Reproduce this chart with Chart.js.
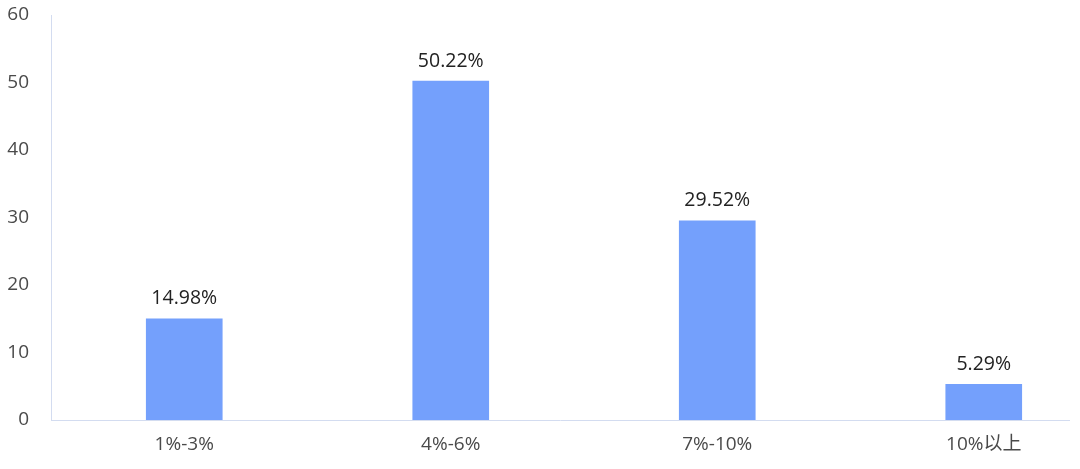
<!DOCTYPE html>
<html>
<head>
<meta charset="utf-8">
<script src="https://cdn.jsdelivr.net/npm/chart.js@4/dist/chart.umd.min.js"></script>
<style>
html,body{margin:0;padding:0;background:#fff;overflow:hidden;}
#wrap{position:relative;width:1080px;height:469px;overflow:hidden;}
</style>
</head>
<body>
<div id="wrap"><canvas id="c" width="1117" height="469"></canvas></div>
<script>
const categories = ['1%-3%', '4%-6%', '7%-10%', '10%以上'];
const shares = [14.98, 50.22, 29.52, 5.29];
const yTicks = [0, 10, 20, 30, 40, 50, 60];

const FONT = '"Open Sans", "Noto Sans CJK SC", sans-serif';
const AXIS_COLOR = '#d3dcf0';

const valueLabels = {
  id: 'valueLabels',
  afterDatasetsDraw(chart) {
    const ctx = chart.ctx;
    const meta = chart.getDatasetMeta(0);
    ctx.save();
    ctx.font = '19.5px ' + FONT;
    ctx.fillStyle = '#222222';
    ctx.textAlign = 'center';
    ctx.textBaseline = 'middle';
    meta.data.forEach((el, i) => {
      ctx.fillText(shares[i].toFixed(2) + '%', el.x, el.y - 20);
    });
    ctx.restore();
  }
};

const xAxisLine = {
  id: 'xAxisLine',
  afterDraw(chart) {
    const ctx = chart.ctx;
    const y = Math.round(chart.scales.y.getPixelForValue(0)) + 0.5;
    ctx.save();
    ctx.strokeStyle = AXIS_COLOR;
    ctx.lineWidth = 1;
    ctx.beginPath();
    ctx.moveTo(chart.chartArea.left, y);
    ctx.lineTo(1070, y);
    ctx.stroke();
    ctx.restore();
  }
};

new Chart(document.getElementById('c'), {
  type: 'bar',
  data: {
    labels: categories,
    datasets: [{
      data: shares,
      backgroundColor: '#74a0fc',
      borderWidth: 0,
      barThickness: 76
    }]
  },
  options: {
    responsive: false,
    animation: false,
    devicePixelRatio: 1,
    layout: { padding: { top: 15, right: 0, bottom: 0, left: 0 } },
    plugins: { legend: { display: false }, tooltip: { enabled: false } },
    scales: {
      x: {
        grid: { display: false, drawTicks: false },
        border: { display: false },
        ticks: { color: '#4a4a4a', font: { family: FONT, size: 19 }, padding: 13, maxRotation: 0 },
        afterFit(scale) { scale.height = 49; }
      },
      y: {
        min: 0,
        max: 60,
        grid: { display: false, drawTicks: false },
        border: { display: true, color: AXIS_COLOR, width: 1 },
        afterBuildTicks(scale) { scale.ticks = yTicks.map(v => ({ value: v })); },
        ticks: { color: '#4a4a4a', font: { family: FONT, size: 19 }, padding: 22 },
        afterFit(scale) {
          scale.width = 51;
          scale.paddingTop = 0;
          scale.paddingBottom = 0;
        }
      }
    }
  },
  plugins: [valueLabels, xAxisLine]
});
</script>
</body>
</html>
